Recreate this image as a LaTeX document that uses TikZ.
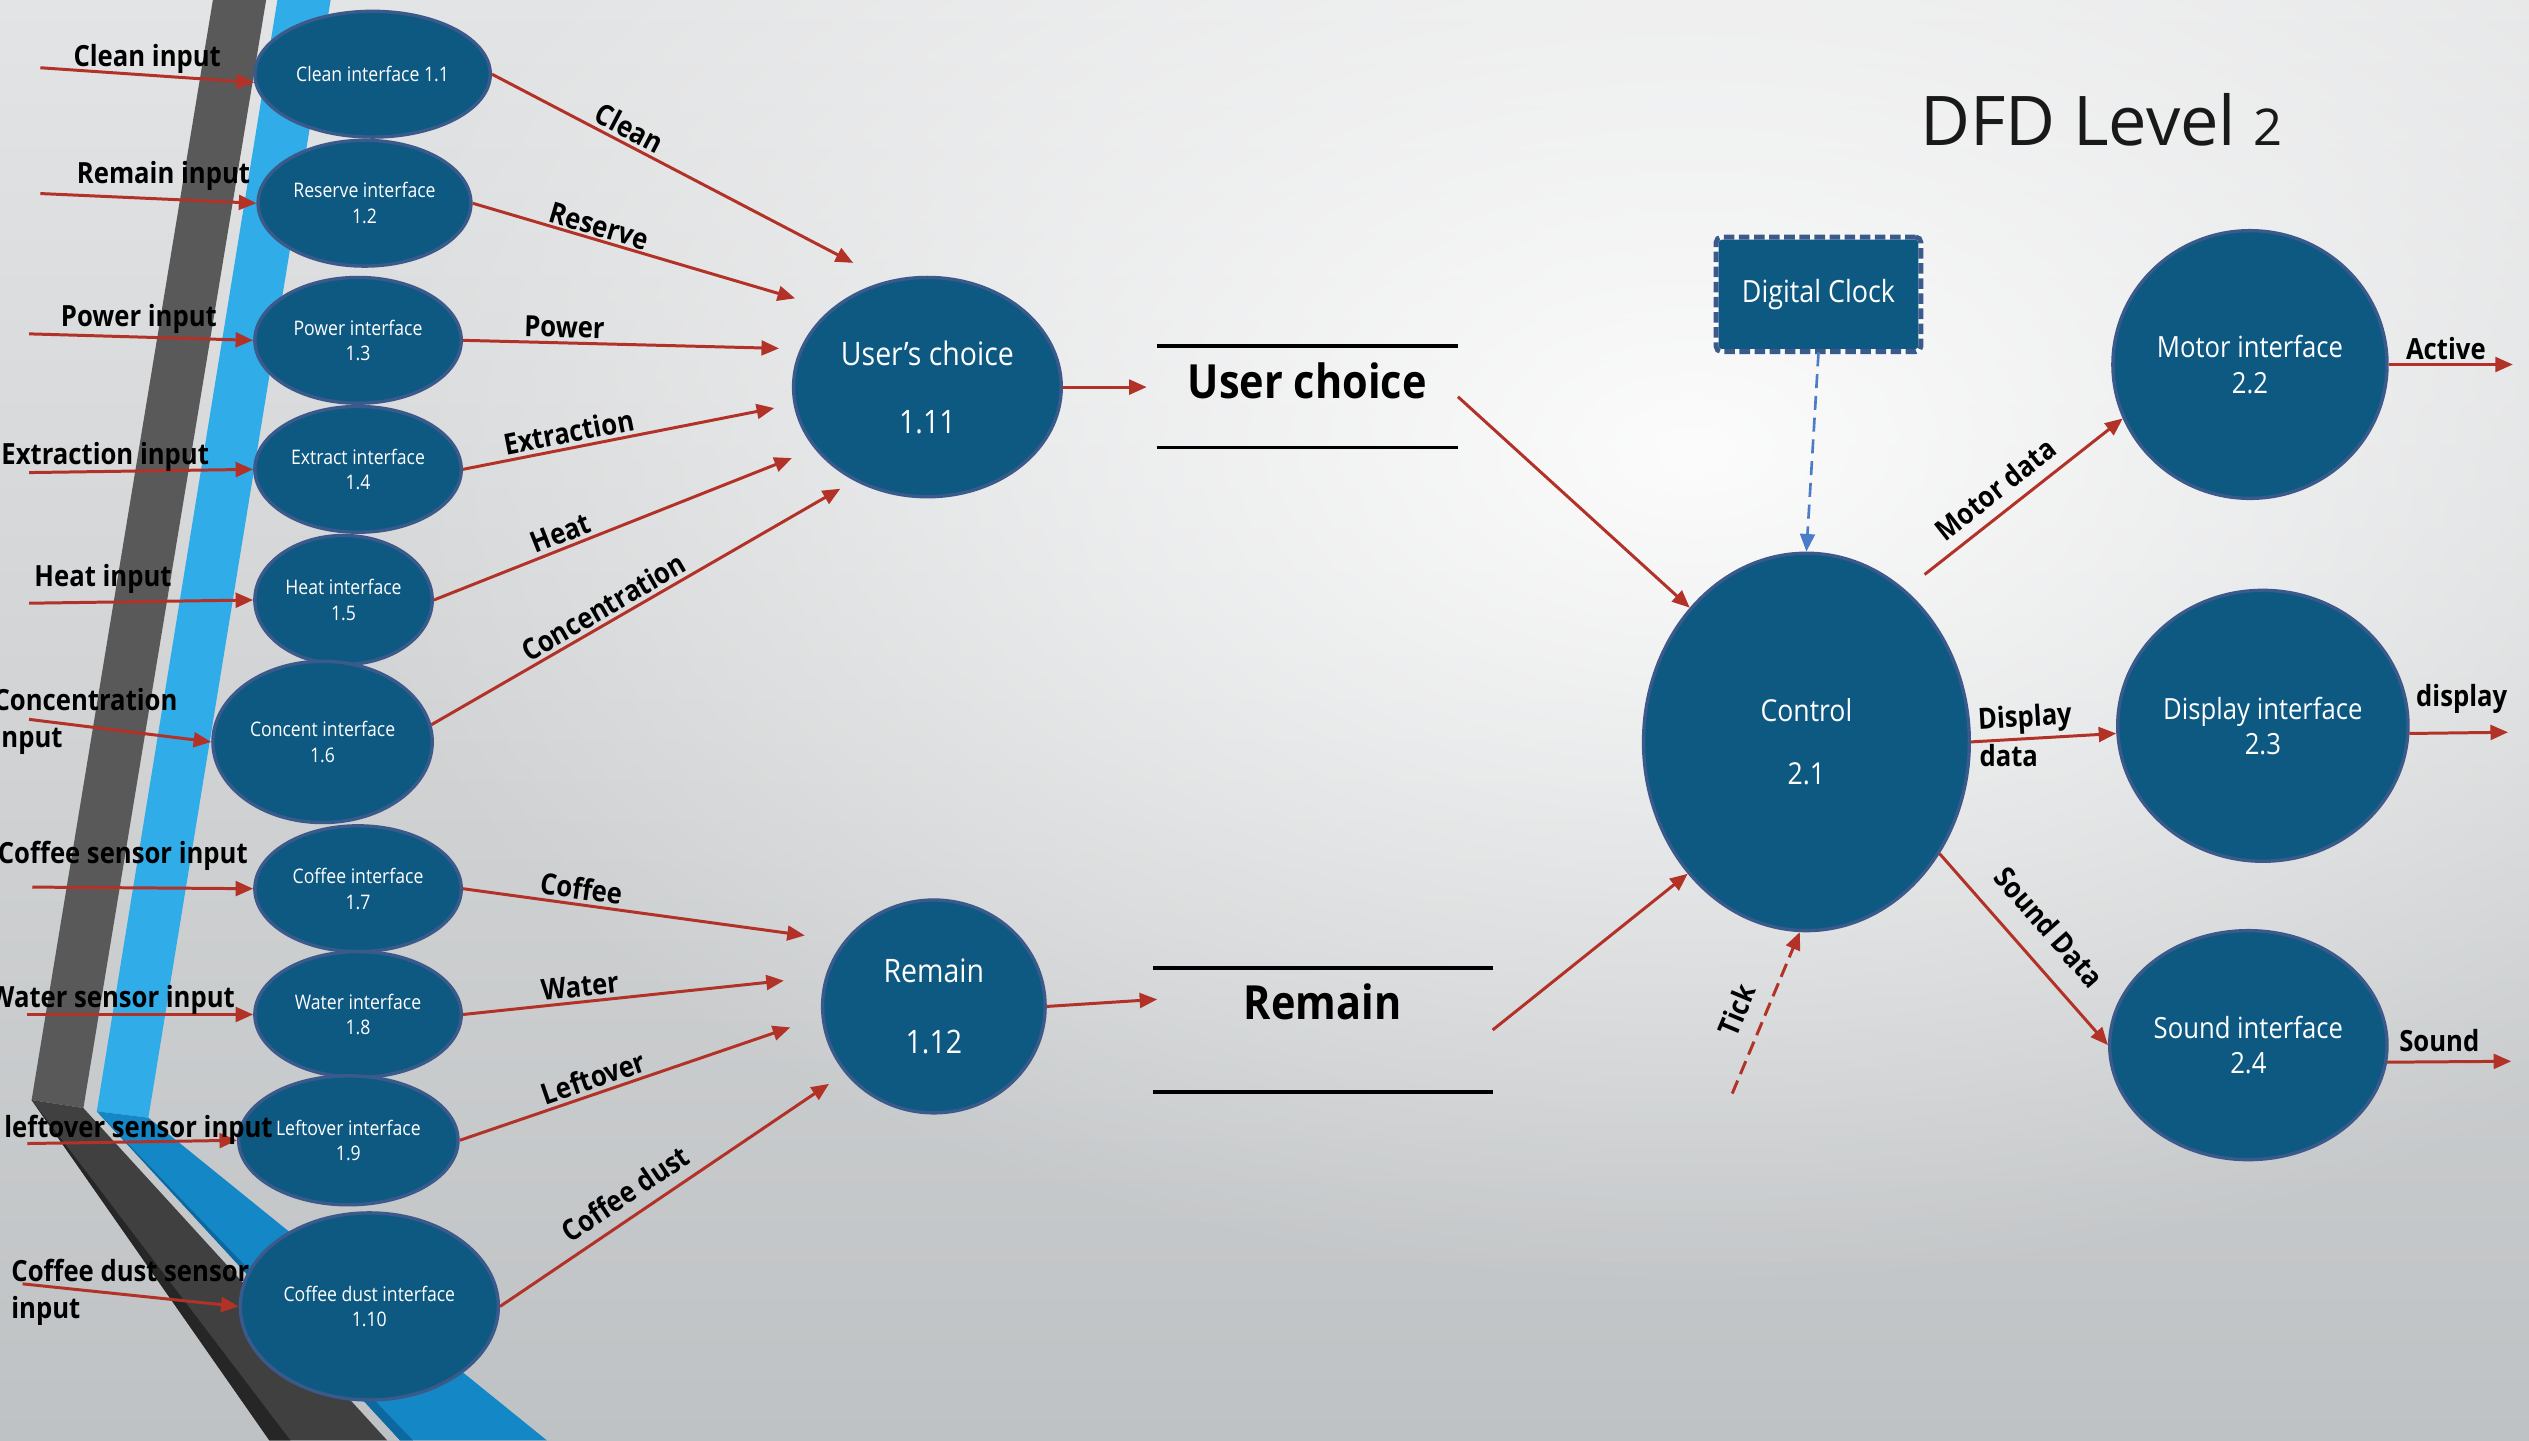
\documentclass[tikz,border=0pt]{standalone}
\usepackage{fontspec}
\usepackage{graphicx}
\setmainfont[FakeStretch=0.88]{Open Sans}
\newfontfamily\titlefont{Open Sans}
\usetikzlibrary{shapes.geometric,arrows.meta,fadings}

\definecolor{procfill}{RGB}{14,89,130}
\definecolor{procedge}{RGB}{59,90,140}
\definecolor{flowred}{RGB}{178,50,40}
\definecolor{clockblue}{RGB}{74,124,200}
\definecolor{stripdark}{RGB}{89,89,89}
\definecolor{stripdarker}{RGB}{64,64,64}
\definecolor{stripdeepest}{RGB}{38,38,38}
\definecolor{stripblue}{RGB}{48,172,232}
\definecolor{stripbluelow}{RGB}{20,135,198}
\definecolor{stripblueedge}{RGB}{14,104,160}
\definecolor{bgtop}{RGB}{227,228,229}
\definecolor{bgbottom}{RGB}{191,194,196}

\newlength\pxu
\setlength\pxu{0.016129cm}

\tikzfading[name=glowfade, inner color=transparent!8, outer color=transparent!100]

\tikzset{
  proc/.style={ellipse, fill=procfill, draw=procedge, line width=0.95pt,
    inner sep=0pt, text=white, align=center},
  iface/.style={proc, font=\fontsize{5.7}{7.3}\selectfont},
  core/.style={proc, font=\fontsize{9.2}{11}\selectfont},
  outerproc/.style={proc, font=\fontsize{8.3}{10.1}\selectfont},
  flow/.style={draw=flowred, line width=0.85pt, -{Triangle[length=5pt,width=4.2pt]}},
  tickflow/.style={flow, dash pattern=on 4pt off 2pt},
  clockflow/.style={draw=clockblue, line width=0.75pt, dash pattern=on 4pt off 2.2pt,
    -{Triangle[length=5pt,width=4.2pt]}},
  lbl/.style={font=\bfseries\fontsize{8.3}{10.5}\selectfont, text=black, inner sep=1pt},
  storebox/.style={draw=none, inner sep=0pt},
  storeline/.style={draw=black, line width=1pt},
  storetext/.style={font=\bfseries\fontsize{13.4}{16}\selectfont, inner sep=0pt},
}

\begin{document}
\begin{tikzpicture}[x=0.016129cm, y=-0.016129cm]
\useasboundingbox (0,0) rectangle (1568,893);

% background
\shade[top color=bgtop, bottom color=bgbottom] (0,0) rectangle (1568,893);
\fill[white, path fading=glowfade] (1050,280) ellipse (850 and 520);

% decorative ribbons on the left
\fill[stripdark] (132,0) -- (165,0) -- (51.7,687) -- (19.6,682) -- cycle;
\fill[stripdarker] (19.6,682) -- (51.7,687) -- (240,893) -- (167,893) -- cycle;
\fill[stripdeepest] (19.6,682) -- (180,893) -- (167,893) -- cycle;
\fill[stripblue] (172,0) -- (205,0) -- (92,693) -- (60,689) -- cycle;
\fill[stripbluelow] (60,689) -- (92,693) -- (339,893) -- (248,893) -- cycle;
\fill[stripblueedge] (60,689) -- (256,893) -- (248,893) -- cycle;

% title
\node[font=\titlefont\fontsize{19.5}{23}\selectfont, text=black!90] (title) at (1303,74)
  {DFD Level \scalebox{0.74}{2}};

% interface processes
\node[iface, minimum width=146\pxu, minimum height=78\pxu] (clean) at (231,46) {Clean interface 1.1};
\node[iface, minimum width=132\pxu, minimum height=78\pxu] (reserve) at (226,126) {Reserve interface\\1.2};
\node[iface, minimum width=128\pxu, minimum height=78\pxu] (power) at (222,211) {Power interface\\1.3};
\node[iface, minimum width=128\pxu, minimum height=78\pxu] (extract) at (222,291) {Extract interface\\1.4};
\node[iface, minimum width=110\pxu, minimum height=80\pxu] (heat) at (213,372) {Heat interface\\1.5};
\node[iface, minimum width=136\pxu, minimum height=100\pxu] (concent) at (200,460) {Concent interface\\1.6};
\node[iface, minimum width=128\pxu, minimum height=78\pxu] (coffee) at (222,551) {Coffee interface\\1.7};
\node[iface, minimum width=128\pxu, minimum height=78\pxu] (water) at (222,629) {Water interface\\1.8};
\node[iface, minimum width=136\pxu, minimum height=80\pxu] (leftover) at (216,707) {Leftover interface\\1.9};
\node[iface, minimum width=160\pxu, minimum height=116\pxu] (cdust) at (229,810) {Coffee dust interface\\1.10};

% collecting processes
\node[core, minimum width=166\pxu, minimum height=136\pxu] (users) at (575,240) {User’s choice\\[8.3pt]1.11};
\node[core, minimum width=138\pxu, minimum height=132\pxu] (remain) at (579,624) {Remain\\[9pt]1.12};

% control and output processes
\node[core, minimum width=202\pxu, minimum height=234\pxu, font=\fontsize{8.6}{10.5}\selectfont] (control) at (1120,460) {Control\\[7.5pt]2.1};
\node[outerproc, minimum width=170\pxu, minimum height=166\pxu] (motor) at (1395,226) {Motor interface\\2.2};
\node[outerproc, minimum width=180\pxu, minimum height=168\pxu] (display) at (1403,450) {Display interface\\2.3};
\node[outerproc, minimum width=172\pxu, minimum height=142\pxu] (sound) at (1394,648) {Sound interface\\2.4};

% external clock
\node[rectangle, rounded corners=1.5pt, fill=procfill, minimum width=127\pxu, minimum height=71\pxu,
  text=white, font=\fontsize{8.7}{10}\selectfont,
  postaction={draw=white!96!gray, line width=1.4pt},
  postaction={draw=procedge, line width=1.4pt, dash pattern=on 3pt off 1.3pt}]
  (clock) at (1127.5,182.5) {Digital Clock};

% data stores
\node[storebox, minimum width=186\pxu, minimum height=62\pxu] (ucstore) at (810.5,246) {};
\draw[storeline] (ucstore.north west) -- (ucstore.north east);
\draw[storeline] (ucstore.south west) -- (ucstore.south east);
\node[storetext] (ucstoretext) at (810.5,236) {User choice};
\node[storebox, minimum width=210\pxu, minimum height=76\pxu] (rmstore) at (820,638.6) {};
\draw[storeline] (rmstore.north west) -- (rmstore.north east);
\draw[storeline] (rmstore.south west) -- (rmstore.south east);
\node[storetext] (rmstoretext) at (820,621) {Remain};

% sensor inputs
\coordinate (in1) at (25,42);
\coordinate (in2) at (25,120);
\coordinate (in3) at (18,207);
\coordinate (in4) at (18,293);
\coordinate (in5) at (18,374);
\coordinate (in6) at (18,446);
\coordinate (in7) at (20,550);
\coordinate (in8) at (17,629);
\coordinate (in9) at (17,709);
\coordinate (in10) at (14,796);

\draw[flow] (in1) -- node[lbl, above=-1pt, pos=0.5] {Clean input} (clean.184);
\draw[flow] (in2) -- node[lbl, above=1pt, pos=0.57] {Remain input} (reserve.west);
\draw[flow] (in3) -- node[lbl, above=-0.5pt, pos=0.49] {Power input} (power.west);
\draw[flow] (in4) -- node[lbl, above=-1.5pt, pos=0.34] {Extraction input} (extract.west);
\draw[flow] (in5) -- node[lbl, above=1pt, pos=0.33] {Heat input} (heat.west);
\draw[flow] (in6) -- node[lbl, at start, anchor=west, align=left, xshift=-11.5pt, yshift=-0.7pt] {Concentration\\input} (concent.west);
\draw[flow] (in7) -- node[lbl, above=3.5pt, pos=0.41] {Coffee sensor input} (coffee.west);
\draw[flow] (in8) -- node[lbl, above=-1.5pt, pos=0.376] {Water sensor input} (water.west);
\draw[flow] (in9) -- node[lbl, above=-2.3pt, pos=0.53] {leftover sensor input} (leftover.west);
\draw[flow] (in10) -- node[lbl, at start, anchor=west, align=left, xshift=-4.6pt, yshift=-2.3pt] {Coffee dust sensor\\input} (cdust.west);

% flows into User's choice
\coordinate (u1) at (529,163);
\coordinate (u2) at (493,185);
\coordinate (u3) at (483,216);
\coordinate (u4) at (480,253);
\coordinate (u5) at (491,284);
\coordinate (u6) at (521,303);
\draw[flow] (clean.east) -- node[lbl, sloped, above, pos=0.36] {Clean} (u1);
\draw[flow] (reserve.east) -- node[lbl, sloped, above=-0.5pt, pos=0.38] {Reserve} (u2);
\draw[flow] (power.east) -- node[lbl, sloped, above, pos=0.32] {Power} (u3);
\draw[flow] (extract.east) -- node[lbl, sloped, above, pos=0.35] {Extraction} (u4);
\draw[flow] (heat.east) -- node[lbl, sloped, above, pos=0.37] {Heat} (u5);
\draw[flow] (concent.9) -- node[lbl, sloped, above, pos=0.44] {Concentration} (u6);

% flows into Remain
\coordinate (r1) at (499,580);
\coordinate (r2) at (486,608);
\coordinate (r3) at (490,637);
\coordinate (r4) at (514,672);
\draw[flow] (coffee.east) -- node[lbl, sloped, above, pos=0.34] {Coffee} (r1);
\draw[flow] (water.east) -- node[lbl, sloped, above, pos=0.37] {Water} (r2);
\draw[flow] (leftover.east) -- node[lbl, sloped, above, pos=0.42] {Leftover} (r3);
\draw[flow] (cdust.east) -- node[lbl, sloped, above=2pt, pos=0.42] {Coffee dust} (r4);

% stores and control
\coordinate (ucin) at (711,240);
\coordinate (rmin) at (717.5,619.6);
\draw[flow] (users.east) -- (ucin);
\draw[flow] (remain.east) -- (rmin);
\draw[flow] (ucstore.east) -- (control.131);
\draw[flow] (rmstore.east) -- (control.228);
\draw[clockflow] (clock.south) -- (control.north);
\coordinate (tick0) at (1074,678);
\draw[tickflow] (tick0) -- node[lbl, sloped, above=3.5pt, pos=0.45] {Tick} (control.268);

% control outputs
\draw[flow, shorten <=7pt] (control.57) -- node[lbl, sloped, above=2pt, pos=0.48] {Motor data} (motor.203);
\draw[flow] (control.east) -- node[lbl, sloped, above, pos=0.38] {Display} node[lbl, below, pos=0.26] {data} (display.183);
\draw[flow] (control.-40) -- node[lbl, sloped, above=5pt, pos=0.5] {Sound Data} (sound.west);

% outputs to the machine
\coordinate (actout) at (1558,226);
\coordinate (dispout) at (1555,454);
\coordinate (sndout) at (1557,658);
\draw[flow] (motor.east) -- node[lbl, above, pos=0.46] {Active} (actout);
\draw[flow] (display.-3) -- node[lbl, above=4pt, pos=0.53] {display} (dispout);
\draw[flow] (sound.-7) -- node[lbl, above=1.5pt, pos=0.42] {Sound} (sndout);
\end{tikzpicture}
\end{document}
